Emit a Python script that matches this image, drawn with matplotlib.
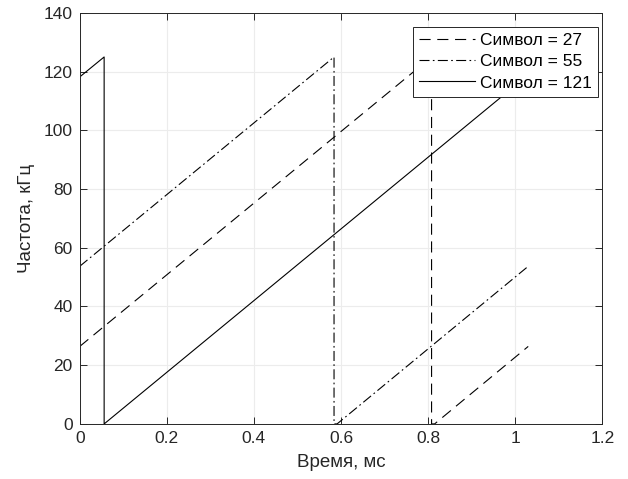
import matplotlib
matplotlib.use('Agg')
import matplotlib.pyplot as plt

plt.rcParams['font.family'] = ['Liberation Sans', 'DejaVu Sans']

# chirp vertices, time in ms, frequency in kHz
t27 = [0, 0.808, 0.808, 0.815, 1.030]
f27 = [26.4, 125, 0, 0, 26.4]
t55 = [0, 0.584, 0.584, 0.591, 1.030]
f55 = [53.7, 125, 0, 0, 53.7]
t121 = [0, 0.056, 0.056, 1.024]
f121 = [118.2, 125, 0, 118.2]

labels = ['Символ = 27', 'Символ = 55', 'Символ = 121']
xticks = [0, 0.2, 0.4, 0.6, 0.8, 1, 1.2]
xticklabels = ['0', '0.2', '0.4', '0.6', '0.8', '1', '1.2']
yticks = [0, 20, 40, 60, 80, 100, 120, 140]

fig = plt.figure(figsize=(6.28, 4.79), dpi=100)
ax = fig.add_axes([0.127, 0.115, 0.832, 0.858])

ax.plot(t27, f27, color='black', lw=0.8, linestyle=(0, (10, 6)), label=labels[0])
ax.plot(t55, f55, color='black', lw=0.8, linestyle=(0, (9, 3, 1.5, 3)), label=labels[1])
ax.plot(t121, f121, color='black', lw=0.8, linestyle='-', label=labels[2])

ax.set_xlim(0, 1.2)
ax.set_ylim(0, 140)
ax.set_xticks(xticks)
ax.set_xticklabels(xticklabels)
ax.set_yticks(yticks)
ax.grid(True, color='#ececec', lw=0.8)
ax.set_axisbelow(True)
for s in ax.spines.values():
    s.set_color('#262626')
    s.set_linewidth(0.7)
ax.tick_params(direction='in', top=True, right=True, length=5, width=0.7,
               labelsize=12.5, colors='#262626', labelcolor='#262626', pad=5)
ax.set_xlabel('Время, мс', fontsize=13.5, color='#262626', labelpad=6)
ax.set_ylabel('Частота, кГц', fontsize=13.5, color='#262626', labelpad=6)

leg = ax.legend(loc='upper right', bbox_to_anchor=(0.952, 0.944),
                bbox_transform=fig.transFigure, borderaxespad=0,
                fontsize=12.5, frameon=True, fancybox=False, framealpha=1,
                edgecolor='#262626', handlelength=3.2,
                labelspacing=0.35, handletextpad=0.3, borderpad=0.35)
leg.get_frame().set_linewidth(0.7)

fig.savefig('out.png', dpi=100)
